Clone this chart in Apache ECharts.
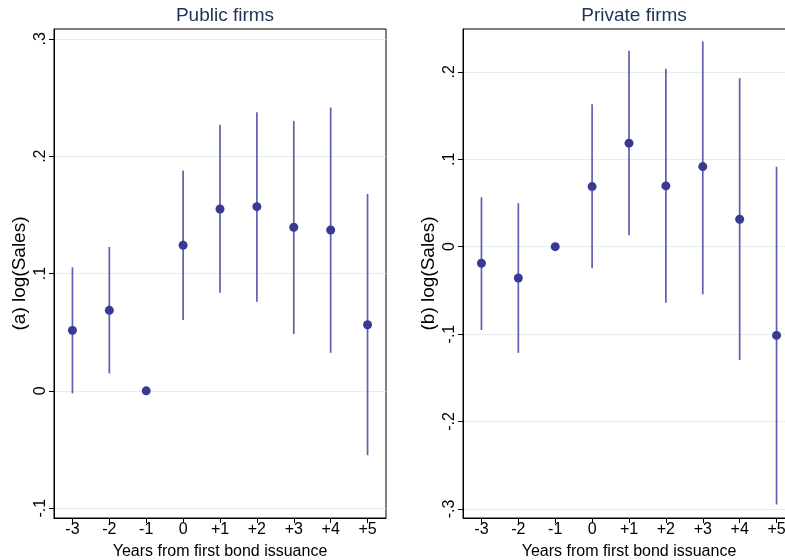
<!DOCTYPE html>
<html>
<head>
<meta charset="utf-8">
<script src="https://cdn.jsdelivr.net/npm/echarts@6/dist/echarts.min.js"></script>
<style>
  html, body { margin: 0; padding: 0; background: #fff; }
  #chart { width: 785px; height: 560px; }
</style>
</head>
<body>
<div id="chart"></div>
<script>
// Event-time coefficients on log(Sales) with 95% confidence intervals
const categories = ['-3', '-2', '-1', '0', '+1', '+2', '+3', '+4', '+5'];

const publicCoef = [0.0515, 0.0686, 0, 0.1241, 0.1550, 0.1570, 0.1394, 0.1371, 0.0563];
const publicLow  = [-0.0022, 0.0148, null, 0.0603, 0.0836, 0.0759, 0.0484, 0.0324, -0.0549];
const publicHigh = [0.1053, 0.1226, null, 0.1877, 0.2267, 0.2375, 0.2301, 0.2415, 0.1678];

const privateCoef = [-0.0190, -0.0358, 0, 0.0687, 0.1184, 0.0695, 0.0916, 0.0314, -0.1015];
const privateLow  = [-0.0954, -0.1214, null, -0.0247, 0.0131, -0.0641, -0.0545, -0.1297, -0.2950];
const privateHigh = [0.0566, 0.0497, null, 0.1630, 0.2241, 0.2035, 0.2349, 0.1928, 0.0913];

const publicTicks = [-0.1, 0, 0.1, 0.2, 0.3];
const privateTicks = [-0.3, -0.2, -0.1, 0, 0.1, 0.2];

const FONT = 'Liberation Sans, Arial, sans-serif';
const DOT = '#3a3a94';
const BAR = '#5f5faf';
const GRIDLINE = '#e4eef0';

function tickText(v) {
  const r = Math.round(v * 10) / 10;
  if (r === 0) return '0';
  return String(r).replace('0.', '.');
}

function ciData(low, high) {
  return categories.map((c, i) => [i, low[i], high[i]]);
}

function errBar(params, api) {
  const lo = api.value(1), hi = api.value(2);
  if (lo == null || hi == null || isNaN(lo) || isNaN(hi)) return null;
  const x = api.value(0);
  const a = api.coord([x, lo]);
  const b = api.coord([x, hi]);
  return {
    type: 'line',
    shape: { x1: a[0], y1: a[1], x2: b[0], y2: b[1] },
    style: { stroke: BAR, lineWidth: 1.7 }
  };
}

function xAxisCfg(gridIndex) {
  return {
    type: 'category', gridIndex, data: categories, boundaryGap: true,
    name: 'Years from first bond issuance', nameLocation: 'middle', nameGap: 26,
    nameTextStyle: { fontFamily: FONT, fontSize: 16, color: '#000' },
    axisLine: { show: true, onZero: false, lineStyle: { color: '#000', width: 1 } },
    axisTick: { show: true, alignWithLabel: true, length: 5, lineStyle: { color: '#000' } },
    axisLabel: { fontFamily: FONT, fontSize: 16, color: '#000', margin: 4, interval: 0 },
    splitLine: { show: false }
  };
}

function yAxisCfg(gridIndex, min, max, ticks, name) {
  return {
    type: 'value', gridIndex, min, max,
    name, nameLocation: 'middle', nameGap: 25,
    nameTextStyle: { fontFamily: FONT, fontSize: 19, color: '#000' },
    axisLine: { show: true, onZero: false, lineStyle: { color: '#000', width: 1 } },
    axisTick: { show: true, length: 5, customValues: ticks, lineStyle: { color: '#000' } },
    axisLabel: { fontFamily: FONT, fontSize: 16, color: '#000', rotate: 90, margin: 5,
                 customValues: ticks, formatter: tickText },
    splitLine: { show: true, lineStyle: { color: GRIDLINE, width: 1 } }
  };
}

const chart = echarts.init(document.getElementById('chart'), null, { renderer: 'canvas' });

chart.setOption({
  animation: false,
  backgroundColor: '#fff',
  title: [
    { text: 'Public firms', left: 220, top: 1, textAlign: 'center',
      textStyle: { fontFamily: FONT, fontSize: 19, fontWeight: 'normal', color: '#1f3257' } },
    { text: 'Private firms', left: 629, top: 1, textAlign: 'center',
      textStyle: { fontFamily: FONT, fontSize: 19, fontWeight: 'normal', color: '#1f3257' } }
  ],
  grid: [
    { left: 54, top: 29, width: 332, height: 489, outerBoundsMode: 'none',
      show: true, borderColor: '#000', borderWidth: 1, backgroundColor: 'transparent' },
    { left: 463, top: 29, width: 332, height: 489, outerBoundsMode: 'none',
      show: true, borderColor: '#000', borderWidth: 1, backgroundColor: 'transparent' }
  ],
  xAxis: [xAxisCfg(0), xAxisCfg(1)],
  yAxis: [
    yAxisCfg(0, -0.1084, 0.3084, publicTicks, '(a) log(Sales)'),
    yAxisCfg(1, -0.3104, 0.2490, privateTicks, '(b) log(Sales)')
  ],
  series: [
    { type: 'custom', name: 'Public CI', xAxisIndex: 0, yAxisIndex: 0,
      renderItem: errBar, data: ciData(publicLow, publicHigh), z: 2 },
    { type: 'scatter', name: 'Public', xAxisIndex: 0, yAxisIndex: 0,
      data: publicCoef, symbol: 'circle', symbolSize: 9,
      itemStyle: { color: DOT, opacity: 1 }, z: 3 },
    { type: 'custom', name: 'Private CI', xAxisIndex: 1, yAxisIndex: 1,
      renderItem: errBar, data: ciData(privateLow, privateHigh), z: 2 },
    { type: 'scatter', name: 'Private', xAxisIndex: 1, yAxisIndex: 1,
      data: privateCoef, symbol: 'circle', symbolSize: 9,
      itemStyle: { color: DOT, opacity: 1 }, z: 3 }
  ]
});
</script>
</body>
</html>
